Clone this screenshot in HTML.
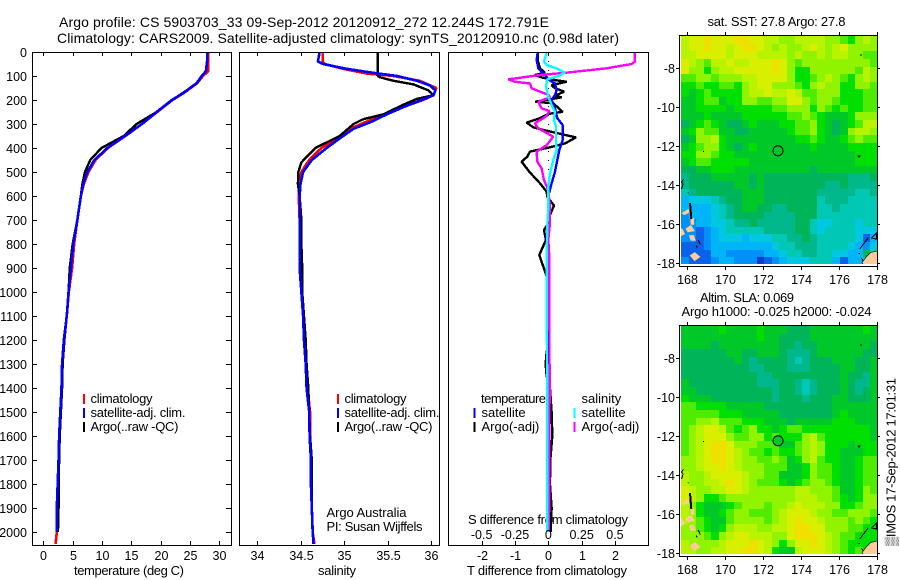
<!DOCTYPE html>
<html>
<head>
<meta charset="utf-8">
<title>Argo profile</title>
<style>
html,body{margin:0;padding:0;background:#fff;}
svg{display:block;}
text{font-family:"Liberation Sans","DejaVu Sans",sans-serif;fill:#000;}
</style>
</head>
<body>
<svg id="chart" xmlns="http://www.w3.org/2000/svg" width="900" height="580" viewBox="0 0 900 580">
<rect x="0" y="0" width="900" height="580" fill="#fff"/>
<text x="59" y="27" font-size="14" textLength="490" lengthAdjust="spacing">Argo profile: CS 5903703_33 09-Sep-2012 20120912_272 12.244S 172.791E</text>
<text x="57" y="43" font-size="14" textLength="562" lengthAdjust="spacing">Climatology: CARS2009. Satellite-adjusted climatology: synTS_20120910.nc (0.98d later)</text>
<text x="74" y="575" font-size="13" textLength="110" lengthAdjust="spacing">temperature (deg C)</text>
<text x="318" y="575" font-size="13" textLength="38" lengthAdjust="spacing">salinity</text>
<text x="467" y="575" font-size="13" textLength="160" lengthAdjust="spacing">T difference from climatology</text>
<text x="468" y="524" font-size="13" textLength="160" lengthAdjust="spacing">S difference from climatology</text>
<text x="326.5" y="517" font-size="13" textLength="80" lengthAdjust="spacing">Argo Australia</text>
<text x="326.5" y="531" font-size="13" textLength="96" lengthAdjust="spacing">PI: Susan Wijffels</text>
<text x="707.5" y="26" font-size="13" textLength="138" lengthAdjust="spacing">sat. SST: 27.8  Argo: 27.8</text>
<text x="700" y="302" font-size="13" textLength="94" lengthAdjust="spacing">Altim. SLA: 0.069</text>
<text x="681.5" y="316" font-size="13" textLength="190" lengthAdjust="spacing">Argo h1000: -0.025 h2000: -0.024</text>
<text transform="translate(895.5,546) rotate(-90)" font-size="13" textLength="168" lengthAdjust="spacing">▒IMOS 17-Sep-2012 17:01:31</text>
<defs>
<clipPath id="clip-map-1"><rect x="681" y="36" width="196" height="228"/></clipPath>
<clipPath id="clip-map-2"><rect x="681" y="326" width="196" height="228"/></clipPath>
</defs>
</svg>
<script>
// ---- profile data ----
const tempDepths = [0,40,80,100,130,170,200,250,300,350,400,450,500,550,600,700,800,900,1000,1100,1200,1300,1400,1500,1600,1700,1800,1900,2000,2050];
const tempClim   = [28.1,28.1,28.1,27.2,26.2,24.0,22.0,19.4,16.8,14.0,11.0,8.9,7.7,6.9,6.4,5.8,5.25,4.9,4.35,4.0,3.5,3.2,3.1,2.9,2.7,2.6,2.45,2.3,2.3,2.1];
const tempSat    = [27.9,27.9,27.7,27.0,26.1,23.9,21.9,19.3,16.8,13.9,10.9,8.7,7.5,6.8,6.4,5.8,5.1,4.7,4.3,4.0,3.5,3.2,3.1,2.9,2.7,2.6,2.45,2.3,2.3];
const tempArgo   = [27.9,27.9,27.7,27.0,26.2,23.8,22.0,19.3,15.9,13.7,9.9,8.0,7.1,6.65,6.4,5.8,5.0,4.5,4.3,4.0,3.6,3.3,3.2,3.0,2.8,2.7,2.6,2.6,2.5];
const salDepthsSat  = [0,20,40,50,70,85,100,120,140,160,180,200,230,260,290,320,350,400,450,500,550,600,700,800,900,1000,1100,1200,1300,1400,1500,1600,1700,1800,1900,2000,2050];
const salSat        = [34.72,34.71,34.70,34.76,35.03,35.30,35.61,35.84,35.99,36.05,36.03,35.89,35.68,35.49,35.32,35.11,34.99,34.80,34.63,34.53,34.50,34.49,34.49,34.49,34.49,34.51,34.53,34.54,34.56,34.57,34.60,34.605,34.62,34.62,34.63,34.64,34.65];
const salDepthsClim = [0,40,50,70,90,100,120,150,180,200,230,260,290,320,350,400,450,500,550,600,700,800,900,1000,1100,1200,1300,1400,1500,1600,1700,1800,1900,2000,2050];
const salClim       = [34.755,34.755,34.78,34.99,35.26,35.57,35.87,36.06,36.03,35.91,35.67,35.45,35.26,35.07,34.97,34.74,34.60,34.51,34.48,34.48,34.49,34.49,34.50,34.51,34.53,34.54,34.56,34.58,34.61,34.61,34.62,34.62,34.63,34.64,34.66];
const salDepthsArgo = [0,100,105,120,135,160,180,195,220,260,280,300,350,400,430,460,500,550,600,700,800,900,1000,1100,1200,1300,1400,1500,1600,1700,1800,1900,1990];
const salArgo       = [35.39,35.39,35.41,35.57,35.80,35.97,36.03,35.84,35.68,35.45,35.22,35.11,34.95,34.67,34.59,34.51,34.475,34.47,34.49,34.51,34.51,34.52,34.52,34.54,34.56,34.57,34.59,34.60,34.61,34.63,34.63,34.63,34.64];

const dTDepthsArgo = [3,33,68,86,96,106,117,124,138,151,165,183,189,197,207,214,249,258,276,294,314,328,356,381,397,415,436,457,499,547,582,603,640,686,714,742,783,846,894,943,1000,1100,1200,1250,1300,1350,1400,1500,1600,1700,1800,1900,2000];
const dTArgo       = [-0.32,-0.32,-0.25,-0.10,-0.40,-0.20,0.20,0.55,0.10,0.20,0.47,0.20,0.40,0.05,-0.40,0.15,0.43,0,-0.25,-0.65,-0.45,-0.05,0.83,0.50,0.05,-0.55,-0.63,-0.80,-0.57,-0.25,-0.05,-0.03,0.17,0.03,0,-0.13,-0.07,-0.27,-0.15,-0.03,0.02,0.03,0.03,-0.05,-0.08,-0.05,0.05,0.10,0.12,0.06,0.05,0.10,0.07];
const dTDepthsSat  = [3,33,68,96,114,131,158,179,200,235,276,304,367,408,499,547,589,644,728,783,853,943,1100,1500,2000];
const dTSat        = [-0.32,-0.35,-0.30,-0.10,0,0.20,0.25,0.20,0.10,0.20,0.27,0.43,0.43,0.33,0.20,0.10,0.02,0,-0.03,-0.05,-0.03,-0.03,0,0.02,0.02];
const dSDepthsSat  = [3,40,54,68,86,100,114,144,186,221,249,283,311,367,408,450,506,561,644,728,853,943,1500,2000];
const dSSat        = [-0.0125,-0.0325,-0.0125,0.0625,0.125,0.075,-0.0075,-0.0175,0,0.025,0.05,0.0425,0.0575,0.0575,0.0625,0.0375,0.0125,0,0,-0.0075,-0.0125,-0.0125,-0.0075,-0.0075];
const dSDepthsArgo = [3,40,50,68,86,96,114,124,131,151,165,179,189,207,235,246,267,297,318,353,388,415,457,485,533,575,644,714,783,853,943,1400,2000];
const dSArgo       = [0.65,0.65,0.625,0.4375,0.1375,-0.0625,-0.30,-0.25,-0.1375,-0.125,-0.0625,0,0.0125,-0.075,-0.05,0.0075,-0.0125,-0.10,-0.075,0.0375,-0.0125,-0.0875,-0.0825,-0.05,-0.0325,0,0.0125,0.0125,0,0.0075,0.0075,0.01,0.005];

// ---- axis tick labels ----
const depthTicks = [0,100,200,300,400,500,600,700,800,900,1000,1100,1200,1300,1400,1500,1600,1700,1800,1900,2000];
const tempTicks = [0,5,10,15,20,25,30];
const salTicks = [34,34.5,35,35.5,36];
const dTTicks = [-2,-1,0,1,2];
const dSTicks = [-0.5,-0.25,0,0.25,0.5];
const lonTicks = [168,170,172,174,176,178];
const latTicks = [-8,-10,-12,-14,-16,-18];

// ---- map fields: colour level per 0.4 degree cell ----
const sstRows = [
[12,13,13,14,13,13,13,14,14,13,13,12,12,11,11,12,12,12,12,11,11,10,9,11,12,11],
[12,13,13,14,13,13,12,13,14,14,13,12,11,12,11,11,12,13,12,11,12,13,11,11,11,11],
[12,12,13,13,13,13,12,13,13,13,12,12,12,12,11,12,11,11,12,11,12,12,11,11,10,10],
[13,12,11,10,12,12,13,12,12,13,13,13,14,13,11,10,11,11,11,11,11,11,11,11,11,10],
[13,11,11,9,11,12,12,13,13,13,13,13,14,13,11,9,9,11,11,11,11,11,11,10,12,11],
[10,10,11,11,10,11,11,11,12,12,13,13,13,13,11,9,9,10,11,12,11,10,9,11,12,11],
[9,9,10,9,9,10,10,9,11,12,13,13,11,11,11,10,9,11,12,11,11,9,9,11,11,10],
[9,8,9,10,9,9,9,9,11,12,12,13,12,12,13,12,10,10,11,11,11,9,9,9,10,10],
[8,8,9,10,10,8,9,9,11,11,10,10,11,11,13,13,11,10,11,11,10,9,9,9,10,10],
[8,8,9,9,9,9,8,9,9,9,9,9,10,10,11,11,11,9,11,10,9,10,9,9,10,10],
[8,8,8,9,8,8,8,8,9,9,9,9,9,9,10,10,11,10,9,8,8,8,9,11,11,11],
[7,8,9,10,9,8,7,7,8,9,8,8,8,9,9,10,10,11,9,8,7,8,9,10,12,12],
[8,9,11,10,10,8,8,7,7,8,8,8,8,8,9,10,10,11,9,8,7,8,11,12,12,11],
[7,8,11,11,12,9,8,8,8,8,8,8,8,8,8,9,9,10,9,8,8,9,10,11,10,10],
[8,9,10,11,11,9,8,7,8,9,8,8,8,8,8,8,8,9,8,8,8,8,9,9,9,9],
[9,9,11,11,10,9,9,8,8,8,8,8,8,8,8,8,8,8,8,8,8,8,8,9,9,9],
[8,9,10,10,9,9,9,9,9,8,8,8,8,8,8,8,8,8,8,8,8,8,8,9,9,9],
[7,7,8,8,9,9,9,8,8,8,8,8,8,8,8,8,8,7,8,8,8,8,8,8,8,8],
[6,7,7,7,8,8,8,8,8,7,8,7,7,7,7,7,7,7,7,7,7,7,6,6,6,7],
[6,7,7,7,7,7,7,8,8,7,8,7,7,7,7,7,7,7,7,6,6,7,6,6,6,6],
[5,6,7,7,7,7,7,7,8,8,8,7,7,7,7,7,7,7,6,6,6,6,6,5,5,6],
[3,4,4,4,5,6,7,7,8,8,8,7,7,7,7,7,7,7,5,6,6,6,5,5,5,5],
[3,3,3,3,4,5,6,7,8,8,7,7,6,6,7,7,7,7,5,5,6,5,5,5,5,5],
[2,3,3,3,4,5,6,7,7,7,7,6,6,6,6,7,7,7,5,5,5,5,5,5,5,5],
[2,2,3,3,4,4,5,6,6,7,6,6,6,6,6,7,7,5,4,4,5,5,5,4,5,5],
[2,2,1,2,3,4,5,5,5,5,5,6,6,6,6,7,7,5,4,5,5,5,5,4,4,4],
[2,2,1,2,3,4,4,4,3,4,4,4,5,5,6,6,7,6,5,5,5,5,5,4,1,3],
[1,1,1,2,3,3,3,3,3,3,3,3,4,5,5,6,6,6,5,5,5,5,4,3,2,4],
[1,1,1,1,3,3,2,2,2,2,2,3,3,4,5,5,6,6,5,5,4,4,3,3,7,5],
[2,1,1,1,2,3,3,2,2,2,0,1,2,3,4,4,4,5,5,5,3,1,3,3,4,4]
];
const slaRows = [
[8,8,8,8,8,9,8,8,8,8,9,8,8,8,7,7,7,8,8,8,8,8,8,8,9,8],
[8,8,8,8,8,8,8,8,8,8,9,8,8,7,7,7,7,8,8,8,8,8,8,8,8,8],
[8,8,8,8,7,8,8,8,8,8,8,8,8,7,7,6,7,7,8,8,8,8,8,8,8,7],
[7,7,7,7,7,7,8,8,7,7,8,8,8,7,6,6,6,7,8,8,8,8,8,8,7,7],
[7,7,7,7,7,7,7,8,7,6,7,7,7,7,6,5,6,7,7,7,8,8,8,7,7,8],
[7,7,7,7,7,7,7,7,7,6,6,7,7,7,6,6,6,7,7,7,7,8,8,7,7,8],
[7,7,7,7,7,7,7,7,7,7,6,6,7,7,7,7,7,7,7,7,7,8,7,7,6,8],
[8,7,7,7,7,7,7,7,7,7,6,6,6,7,7,6,5,6,7,7,7,8,7,6,6,8],
[8,8,7,7,7,7,7,7,7,7,7,7,6,7,7,6,5,6,7,7,7,8,7,6,7,8],
[9,8,8,8,7,7,7,7,7,7,7,7,6,7,7,7,6,7,7,7,8,8,7,7,7,8],
[10,10,9,9,9,9,8,8,8,8,8,7,7,7,7,7,7,7,7,7,8,8,8,8,8,8],
[10,10,10,10,10,9,9,9,8,8,8,8,8,7,7,7,7,7,7,7,8,9,8,8,8,8],
[10,10,11,11,12,10,10,10,9,9,9,8,8,8,7,8,8,8,8,8,9,9,9,8,8,8],
[10,11,12,13,13,12,10,9,10,11,9,9,8,9,10,10,9,9,9,9,9,9,9,9,9,8],
[10,11,12,13,13,13,11,10,10,11,11,9,10,9,9,9,11,12,10,9,9,9,9,9,9,8],
[10,11,12,13,14,14,13,11,11,11,10,10,10,8,8,10,11,12,11,9,9,9,8,9,9,9],
[10,11,12,13,14,14,13,12,11,10,10,9,10,9,9,10,11,12,11,9,9,8,8,8,9,9],
[11,11,12,13,14,14,13,12,11,11,10,10,11,10,8,9,11,12,10,9,9,8,8,9,10,10],
[11,11,12,13,13,14,13,12,11,11,11,10,10,10,8,8,9,11,10,10,9,8,8,9,10,10],
[12,11,11,12,13,13,13,13,12,11,11,10,10,8,8,8,9,11,10,10,9,8,8,9,10,10],
[12,11,11,12,12,13,14,13,12,11,10,10,10,9,8,9,10,11,11,10,9,8,8,9,10,10],
[13,12,11,11,12,12,13,13,12,11,11,11,11,11,11,12,12,11,11,11,10,8,8,9,11,10],
[13,12,11,9,9,10,11,11,11,11,11,11,11,11,11,12,12,12,11,11,10,9,8,9,11,11],
[12,11,9,8,8,8,9,10,11,11,11,10,11,11,12,13,12,12,12,11,11,9,9,10,11,11],
[12,11,9,8,8,9,10,11,11,10,10,10,11,12,13,13,13,12,11,11,10,10,11,11,11,10],
[12,11,10,9,8,8,10,11,11,11,11,10,11,12,13,14,13,13,12,11,11,11,10,11,10,9],
[11,11,10,9,8,9,11,12,12,12,11,11,12,12,13,14,14,13,13,11,11,11,10,10,9,9],
[11,11,11,10,9,11,12,13,13,12,12,12,11,11,13,14,14,14,13,12,11,10,10,9,9,9],
[12,11,11,11,11,12,13,13,13,14,13,12,11,9,11,13,13,14,13,12,11,10,9,9,9,8],
[12,12,11,11,12,12,13,13,14,14,13,12,9,8,8,12,13,13,13,12,11,10,9,10,9,8]
];
const floatLon = 172.791;
const floatLat = -12.244;
const floatLevel = [8,8];

// ---- coastline, as [lon,lat] outlines ----
const landShapes = [
[[178.1,-17.37],[177.69,-17.46],[177.46,-17.68],[177.23,-17.97],[177.37,-18.2],[178.1,-18.2]],
[[167.77,-15.45],[168.04,-15.28],[168.09,-15.38],[167.86,-15.5]],
[[168.21,-15.74],[168.32,-15.74],[168.32,-16.0],[168.21,-16.0]],
[[167.95,-16.25],[168.18,-16.1],[168.34,-16.34],[168.04,-16.38]],
[[167.56,-16.25],[167.72,-16.28],[167.83,-16.5],[167.6,-16.6],[167.56,-16.55]],
[[168.14,-16.61],[168.32,-16.61],[168.39,-16.82],[168.21,-16.82]],
[[168.18,-17.62],[168.39,-17.49],[168.63,-17.68],[168.39,-17.85]]
];
const coastLines = [
[[168.14,-14.92],[168.21,-15.74]],
[[168.57,-16.82],[168.69,-17.06]],
[[168.47,-17.1],[168.52,-17.2]],
[[168.04,-14.38],[168.08,-14.42]],
[[167.8,-13.7],[167.7,-13.85],[167.78,-13.95],[167.7,-14.2]],
[[177.55,-16.72],[177.11,-17.28]],
[[177.72,-16.72],[178,-16.46],[178,-16.77],[177.72,-16.72]],
[[177.0,-12.5],[177.14,-12.5],[177.07,-12.58],[177.0,-12.5]],
[[168.85,-12.26],[168.85,-12.3]],
[[177.18,-7.28],[177.18,-7.38]],
[[177.05,-17.5],[177.12,-17.5]],
[[177.2,-17.75],[177.3,-17.9]]
];

// ---- scales ----
const palette = ['#0a3cd2','#0a62e8','#0090f8','#00b4f8','#00c8e0','#00c8b4','#00b88c','#00b45a','#00c828','#00e000','#50ec00','#90f400','#b8f400','#d8f000','#f0e000','#ffc000'];
const svg = document.getElementById('chart');
const NS = 'http://www.w3.org/2000/svg';
const depthY = d => 52 + 0.24 * d;
const tempX = t => 43.3 + 5.87 * t;
const salX = s => 257 + 87 * (s - 34);
const dTX = v => 548.3 + 33.33 * v;
const dSX = v => 548.3 + 133.3 * v;
const lonX = lon => 687.3 + 18.93 * (lon - 168);
const map1Y = lat => 263 + 19.5 * (-18 - lat);
const map2Y = lat => 553 + 19.5 * (-18 - lat);

function make(tag, attrs, parent) {
  const el = document.createElementNS(NS, tag);
  for (const k in attrs) el.setAttribute(k, attrs[k]);
  (parent || svg).appendChild(el);
  return el;
}
function label(x, y, str, anchor, size) {
  const el = make('text', {x: x, y: y, 'font-size': size || 12.5, 'text-anchor': anchor || 'middle'});
  el.textContent = str;
  return el;
}
function tickLine(x1, y1, x2, y2) {
  return make('line', {x1: x1, y1: y1, x2: x2, y2: y2, stroke: '#000', 'stroke-width': 1, 'shape-rendering': 'crispEdges'});
}
function frame(x, y, w, h) {
  return make('rect', {x: x + 0.5, y: y + 0.5, width: w, height: h, fill: 'none', stroke: '#000', 'stroke-width': 1, 'shape-rendering': 'crispEdges'});
}
function profile(depths, values, xFn, color, width) {
  let d = '';
  const n = Math.min(depths.length, values.length);
  for (let i = 0; i < n; i++) d += (i ? 'L' : 'M') + xFn(values[i]).toFixed(2) + ' ' + depthY(depths[i]).toFixed(2);
  return make('path', {d: d, fill: 'none', stroke: color, 'stroke-width': width, 'stroke-linejoin': 'bevel', 'shape-rendering': 'crispEdges'});
}
function legendMark(x, y, color) {
  return make('rect', {x: x, y: y, width: 2, height: 10, fill: color, 'shape-rendering': 'crispEdges'});
}

// ---- panel 1: temperature ----
let el;
el = profile(tempDepths, tempClim, tempX, '#ff0000', 2.6);


el = profile(tempDepths, tempArgo, tempX, '#000000', 2.4);


el = profile(tempDepths, tempSat, tempX, '#0000ff', 2.6);


el = frame(32, 52, 199, 493);


depthTicks.forEach(d => {
  const y = Math.round(depthY(d)) + 0.5;
  tickLine(32, y, 37, y);
  tickLine(226, y, 231, y);
  el = label(27, y + 4.5, String(d), 'end');
  
  
});
tempTicks.forEach(t => {
  const x = Math.round(tempX(t)) + 0.5;
  tickLine(x, 52, x, 56);
  tickLine(x, 541, x, 545);
  el = label(x, 560, String(t));
  
  
});

// ---- panel 2: salinity ----
el = profile(salDepthsClim, salClim, salX, '#ff0000', 2.6);


el = profile(salDepthsArgo, salArgo, salX, '#000000', 2.4);


el = profile(salDepthsSat, salSat, salX, '#0000ff', 2.6);


el = frame(239, 52, 200, 493);


salTicks.forEach(s => {
  const x = Math.round(salX(s)) + 0.5;
  tickLine(x, 52, x, 56);
  tickLine(x, 541, x, 545);
  el = label(x, 560, String(s));
  
  
});

// ---- panel 3: differences ----
el = make('line', {x1: dTX(0), y1: depthY(0), x2: dTX(0), y2: depthY(2050), stroke: '#000', 'stroke-width': 1, 'stroke-dasharray': '1 8', 'shape-rendering': 'crispEdges'});


el = profile(dTDepthsArgo, dTArgo, dTX, '#000000', 2.4);


el = profile(dTDepthsSat, dTSat, dTX, '#0000ff', 2.4);


el = profile(dSDepthsArgo, dSArgo, dSX, '#ff00ff', 2.4);


el = profile(dSDepthsSat, dSSat, dSX, '#00ffff', 2.4);


el = frame(448, 52, 200, 493);


dTTicks.forEach(t => {
  const x = Math.round(dTX(t)) + 0.5;
  tickLine(x, 52, x, 56);
  tickLine(x, 541, x, 545);
  el = label(x, 560, String(t));
  
  
});
dSTicks.forEach(s => {
  el = label(dSX(s), 539, String(s));
  
  
});

// ---- legends ----
const legendRows = [403, 417, 431];
const legendTextA = ['climatology', 'satellite-adj. clim.', 'Argo(..raw -QC)'];
const legendColorA = ['#ff0000', '#0000ff', '#000000'];
const legendWidthA = [62, 95, 88];
[[83, 90.5], [337, 344.5]].forEach(pos => {
  legendRows.forEach((y, i) => {
    el = legendMark(pos[0], y - 9, legendColorA[i]);
    
    
    el = label(pos[1], y, legendTextA[i], 'start', 13);
    el.setAttribute('textLength', legendWidthA[i]);
    
    
  });
});
el = label(481, 403, 'temperature', 'start', 13);
el.setAttribute('textLength', 65);


el = label(581.5, 403, 'salinity', 'start', 13);


const legendTextB = ['satellite', 'Argo(-adj)'];
[[473.5, 481.5, '#0000ff', '#000000'], [573.5, 581.5, '#00ffff', '#ff00ff']].forEach(p => {
  legendTextB.forEach((t, i) => {
    el = legendMark(p[0], legendRows[i + 1] - 9, p[2 + i]);
    
    
    el = label(p[1], legendRows[i + 1], t, 'start', 13);
    
    
  });
});

// ---- maps ----
function drawMap(rows, yFn, clipId, topPx, circleColor, mapName) {
  const g = make('g', {'clip-path': 'url(#' + clipId + ')'});
  
  
  const lonStart = 167.67, lonStep = 0.4;
  const latStart = -18 + (yFn(-18) - topPx) / 19.5, latStep = 0.3915;
  rows.forEach((row, r) => {
    row.forEach((v, c) => {
      const x0 = Math.round(lonX(lonStart + c * lonStep));
      const x1 = Math.round(lonX(lonStart + (c + 1) * lonStep));
      const y0 = Math.round(yFn(latStart - r * latStep));
      const y1 = Math.round(yFn(latStart - (r + 1) * latStep));
      const cell = make('rect', {x: x0, y: y0, width: x1 - x0, height: y1 - y0, fill: palette[Math.max(0, Math.min(15, Math.round(v)))], 'shape-rendering': 'crispEdges'}, g);
      
      
    });
  });
  landShapes.forEach((shape, i) => {
    const pts = shape.map(p => lonX(p[0]).toFixed(1) + ',' + yFn(p[1]).toFixed(1)).join(' ');
    const poly = make('polygon', {points: pts, fill: '#ffcc99', stroke: i === 0 ? '#000' : '#ffcc99', 'stroke-width': i === 0 ? 0.6 : 1.5}, g);
    
    
  });
  coastLines.forEach((line, i) => {
    const pts = line.map(p => lonX(p[0]).toFixed(1) + ',' + yFn(p[1]).toFixed(1)).join(' ');
    const pl = make('polyline', {points: pts, fill: 'none', stroke: '#000', 'stroke-width': i === 0 ? 2 : 1, 'shape-rendering': 'crispEdges'}, g);
    
    
  });
  const mk = make('circle', {cx: lonX(floatLon), cy: yFn(floatLat), r: 5, fill: circleColor, stroke: '#000', 'stroke-width': 1});
  
  
  const fr = frame(679, topPx - 1, 198, 231);
  
  
  const bottom = topPx + 230;
  lonTicks.forEach(lon => {
    const x = Math.round(lonX(lon)) + 0.5;
    tickLine(x, topPx - 4, x, topPx - 1);
    tickLine(x, bottom + 1, x, bottom + 4);
    const t = label(x, bottom + 18, String(lon));
    
    
  });
  latTicks.forEach(lat => {
    const y = Math.round(yFn(lat)) + 0.5;
    tickLine(676, y, 679, y);
    tickLine(877, y, 880, y);
    const t = label(675, y + 4.5, String(lat), 'end');
    
    
  });
}
drawMap(sstRows, map1Y, 'clip-map-1', 36, palette[floatLevel[0]], 'sst');
drawMap(slaRows, map2Y, 'clip-map-2', 326, palette[floatLevel[1]], 'sla');
</script>
</body>
</html>
